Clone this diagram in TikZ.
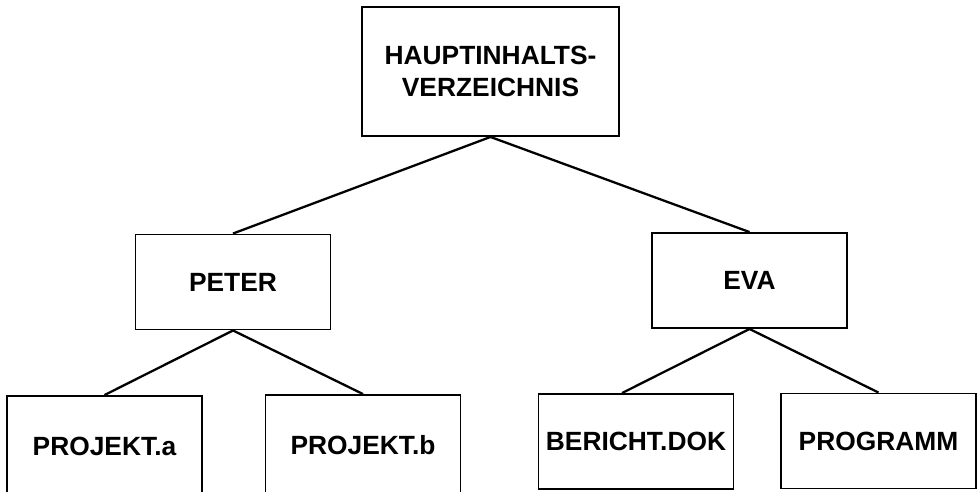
\documentclass[tikz,border=0pt]{standalone}
\usepackage{fontspec}
\setmainfont{Liberation Sans}
\usepackage{tikz}
\tikzset{every edge/.style={draw, line width=1.3pt}}

\begin{document}
\begin{tikzpicture}[x=0.02cm, y=-0.02cm,
  every node/.style={font=\fontsize{15}{18}\selectfont\bfseries, line width=1.1pt, align=center},
  dirbox/.style={draw, minimum width=3.9cm, minimum height=1.9cm, inner sep=0pt}]
  \useasboundingbox (0, 0) rectangle (979, 491);

  \node[draw, minimum width=5.14cm, minimum height=2.58cm] at (490.5, 71.5) (haupt) {HAUPTINHALTS-\\VERZEICHNIS};

  \node[dirbox] at (233, 282)   (peter) {PETER};
  \node[dirbox] at (749.5, 280.5) (eva) {EVA};

  \node[dirbox, minimum height=2cm] at (104.5, 446) (proja) {PROJEKT.a};
  \node[dirbox, minimum height=2cm] at (363, 445)   (projb) {PROJEKT.b};
  \node[dirbox] at (636, 441.5)   (bericht) {BERICHT.DOK};
  \node[dirbox] at (878.5, 441)   (prog) {PROGRAMM};

  \draw (haupt.south) edge (peter.north);
  \draw (haupt.south) edge (eva.north);
  \draw (peter.south) edge (proja.north);
  \draw (peter.south) edge (projb.north);
  \draw (eva.south) edge ([xshift=-0.28cm]bericht.north);
  \draw (eva.south) edge (prog.north);

\end{tikzpicture}
\end{document}
